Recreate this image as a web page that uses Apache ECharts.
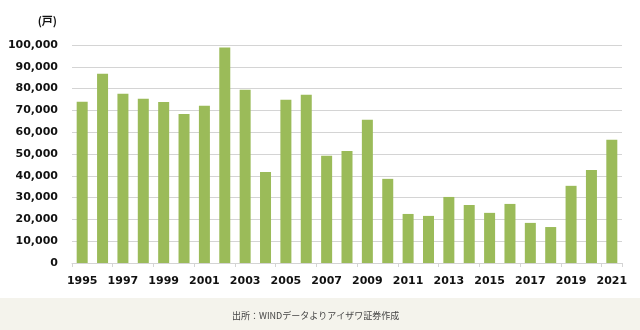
<!DOCTYPE html>
<html>
<head>
<meta charset="utf-8">
<script src="https://cdn.jsdelivr.net/npm/echarts@6/dist/echarts.min.js"></script>
<style>
  html, body { margin: 0; padding: 0; background: #fff; }
  #chart { width: 640px; height: 330px; }
</style>
</head>
<body>
<div id="chart"></div>
<script>
// 住宅着工戸数（年次）
const years = ['1995','1996','1997','1998','1999','2000','2001','2002','2003','2004',
  '2005','2006','2007','2008','2009','2010','2011','2012','2013','2014',
  '2015','2016','2017','2018','2019','2020','2021'];
const units = [74000, 86800, 77600, 75300, 73900, 68400, 72100, 98800, 79500, 41800,
  74900, 77200, 49200, 51400, 65700, 38600, 22500, 21600, 30300, 26600,
  23000, 27100, 18400, 16500, 35400, 42700, 56500];
const unitLabel = '(戸)';
const sourceNote = '出所：WINDデータよりアイザワ証券作成';

const chart = echarts.init(document.getElementById('chart'), null, { renderer: 'canvas' });
const labelFont = { fontFamily: 'DejaVu Sans', fontWeight: 'bold', fontSize: 11, color: '#111' };

chart.setOption({
  animation: false,
  backgroundColor: '#ffffff',
  grid: { left: 72, right: 18, top: 45, bottom: 67, containLabel: false },
  graphic: [
    { type: 'rect', left: 0, top: 298, shape: { width: 640, height: 32 }, style: { fill: '#f4f3ec' }, silent: true },
    { type: 'text', left: 232, top: 311, style: { text: sourceNote, font: '9px "Noto Sans CJK JP"', fill: '#444' } }
  ],
  xAxis: {
    type: 'category',
    data: years,
    axisLine: { lineStyle: { color: '#d4d4d4', width: 1 } },
    axisTick: { show: true, length: 4, lineStyle: { color: '#d4d4d4' }, interval: 1 },
    axisLabel: Object.assign({ interval: 1, margin: 13 }, labelFont)
  },
  yAxis: {
    type: 'value',
    min: 0, max: 100000, interval: 10000,
    name: unitLabel,
    nameLocation: 'end',
    nameGap: 19,
    nameTextStyle: { fontFamily: 'Noto Sans CJK JP', fontWeight: 'bold', fontSize: 11, color: '#111', align: 'right', padding: [0, 15, 0, 0] },
    axisLine: { show: false },
    axisTick: { show: false },
    splitLine: { lineStyle: { color: '#d4d4d4', width: 1 } },
    axisLabel: Object.assign({ margin: 14, formatter: v => v.toLocaleString('en-US') }, labelFont)
  },
  series: [{
    type: 'bar',
    data: units,
    barWidth: 11,
    itemStyle: { color: '#9bbb59' }
  }]
});
</script>
</body>
</html>
